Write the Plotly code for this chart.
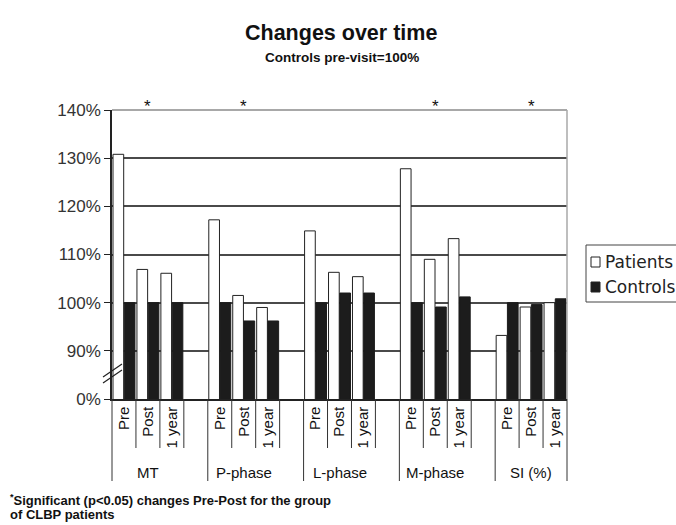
import plotly.graph_objects as go

# ---- data -------------------------------------------------------------
groups = ["MT", "P-phase", "L-phase", "M-phase", "SI (%)"]
timepoints = ["Pre", "Post", "1 year"]

# values in % of the controls' pre-visit level, ordered group by group (Pre, Post, 1 year)
patients = [130.8, 106.9, 106.1,   # MT
            117.2, 101.5, 99.0,    # P-phase
            114.9, 106.3, 105.4,   # L-phase
            127.8, 109.0, 113.3,   # M-phase
            93.2, 99.1, 100.0]     # SI (%)
controls = [100.0, 100.0, 100.0,
            100.0, 96.2, 96.2,
            100.0, 102.0, 102.0,
            100.0, 99.1, 101.2,
            100.0, 99.6, 100.8]

# broken value axis: the bottom tick stands for 0%
y_tickvals = [80, 90, 100, 110, 120, 130, 140]
y_ticktext = ["0%", "90%", "100%", "110%", "120%", "130%", "140%"]

# groups with a significant Pre-Post change for the patients
significant = ["MT", "P-phase", "M-phase", "SI (%)"]

series_names = ["Patients", "Controls"]
series_fill = ["white", "#1c1c1c"]
series_edge = ["#222", "#1c1c1c"]

# ---- page geometry ----------------------------------------------------
W, H = 676, 525
M_L, M_R, M_T, M_B = 112, 109, 110, 126
PW, PH = W - M_L - M_R, H - M_T - M_B


def px(x):
    """page pixel column -> paper x"""
    return (x - M_L) / PW


def py(y):
    """page pixel row -> paper y"""
    return (H - M_B - y) / PH


# ---- category slots (three timepoints + an empty spacer per group) ------
slots = []
for gi, g in enumerate(groups):
    for t in timepoints:
        slots.append(f"{g}|{t}")
    if gi < len(groups) - 1:
        slots.append(f"{g}|gap")
n = len(slots)
bar_x = [f"{g}|{t}" for g in groups for t in timepoints]

FONT = "Liberation Sans, Arial, sans-serif"

fig = go.Figure()
for name, vals, fill, edge in zip(series_names, [patients, controls], series_fill, series_edge):
    fig.add_bar(x=bar_x, y=vals, name=name,
                marker=dict(color=fill, line=dict(color=edge, width=1)))

shapes = []
ann = []

# top and right frame of the plotting area
shapes.append(dict(type="line", xref="paper", yref="paper", x0=0, x1=1, y0=1, y1=1,
                   line=dict(color="#a8a8a8", width=2)))
shapes.append(dict(type="line", xref="paper", yref="paper", x0=1, x1=1, y0=0, y1=1,
                   line=dict(color="#a8a8a8", width=1.5)))

# boxes under the axis: short lines between timepoints, long lines between groups
inner_bottom = py(448)
outer_bottom = py(481)
for i in range(n + 1):
    xp = i / n
    if i == 0 or i == n or slots[i].endswith("|Pre"):
        y1 = outer_bottom
    else:
        y1 = inner_bottom
    shapes.append(dict(type="line", xref="paper", yref="paper", x0=xp, x1=xp,
                       y0=0, y1=y1, line=dict(color="#333", width=1)))

# axis-break marks
for dy in (0, 6):
    shapes.append(dict(type="line", xref="paper", yref="paper",
                       x0=px(103), y0=py(383 - dy), x1=px(122), y1=py(370 - dy),
                       line=dict(color="#222", width=1.2)))

# legend box with its two keys
shapes.append(dict(type="rect", xref="paper", yref="paper",
                   x0=px(586), x1=px(740), y0=py(302), y1=py(245),
                   line=dict(color="#444", width=1), fillcolor="white"))
for k, (name, fill) in enumerate(zip(series_names, series_fill)):
    yc = 262 + 25 * k
    shapes.append(dict(type="rect", xref="paper", yref="paper",
                       x0=px(591), x1=px(600), y0=py(yc + 5), y1=py(yc - 5),
                       line=dict(color="#222", width=1), fillcolor=fill))
    ann.append(dict(x=px(603), xref="paper", y=py(yc), yref="paper", text=name,
                    xanchor="left", yanchor="middle", showarrow=False,
                    font=dict(family="DejaVu Sans, sans-serif", size=17, color="#222")))

# group labels under the boxes
for g in groups:
    ann.append(dict(x=f"{g}|Post", xref="x", y=py(472), yref="paper", text=g,
                    showarrow=False, yanchor="middle",
                    font=dict(family=FONT, size=15, color="#111")))

# significance marks
for g in significant:
    ann.append(dict(x=f"{g}|Post", xref="x", y=140, yref="y", text="*",
                    showarrow=False, yanchor="bottom", yshift=-8,
                    font=dict(family=FONT, size=17, color="#111")))

# titles
ann.append(dict(x=px(341), xref="paper", y=py(33), yref="paper", yanchor="middle",
                text="<b>Changes over time</b>", showarrow=False,
                font=dict(family=FONT, size=21.5, color="#111")))
ann.append(dict(x=px(342), xref="paper", y=py(57), yref="paper", yanchor="middle",
                text="<b>Controls pre-visit=100%</b>", showarrow=False,
                font=dict(family=FONT, size=13.5, color="#111")))

# footnote
for text, yc in [("<b><sup>*</sup>Significant (p<0.05) changes Pre-Post for the group</b>", 500),
                 ("<b>of CLBP patients</b>", 514)]:
    ann.append(dict(x=px(8), xref="paper", y=py(yc), yref="paper", xanchor="left",
                    yanchor="middle", align="left", text=text, showarrow=False,
                    font=dict(family=FONT, size=13, color="#111")))

fig.update_layout(
    width=W, height=H,
    margin=dict(l=M_L, r=M_R, t=M_T, b=M_B, autoexpand=False),
    paper_bgcolor="white", plot_bgcolor="white",
    barmode="group", bargap=0.06, bargroupgap=0.05,
    showlegend=False,
    xaxis=dict(type="category", categoryorder="array", categoryarray=slots,
               range=[-0.5, n - 0.5], tickmode="array", tickvals=bar_x,
               ticktext=[t for g in groups for t in timepoints],
               tickangle=-90, ticks="", showgrid=False, zeroline=False,
               showline=True, linecolor="#222", linewidth=1.5,
               tickfont=dict(family=FONT, size=15, color="#111")),
    yaxis=dict(range=[80, 140], tickmode="array", tickvals=y_tickvals, ticktext=y_ticktext,
               showgrid=True, gridcolor="#4a4a4a", gridwidth=1.5, zeroline=False,
               showline=True, linecolor="#222", linewidth=1.5,
               ticks="outside", ticklen=6, tickcolor="#222",
               tickfont=dict(family=FONT, size=17, color="#333")),
    font=dict(family=FONT),
)
fig.update_layout(shapes=shapes, annotations=ann)

fig.write_html("out.html")
